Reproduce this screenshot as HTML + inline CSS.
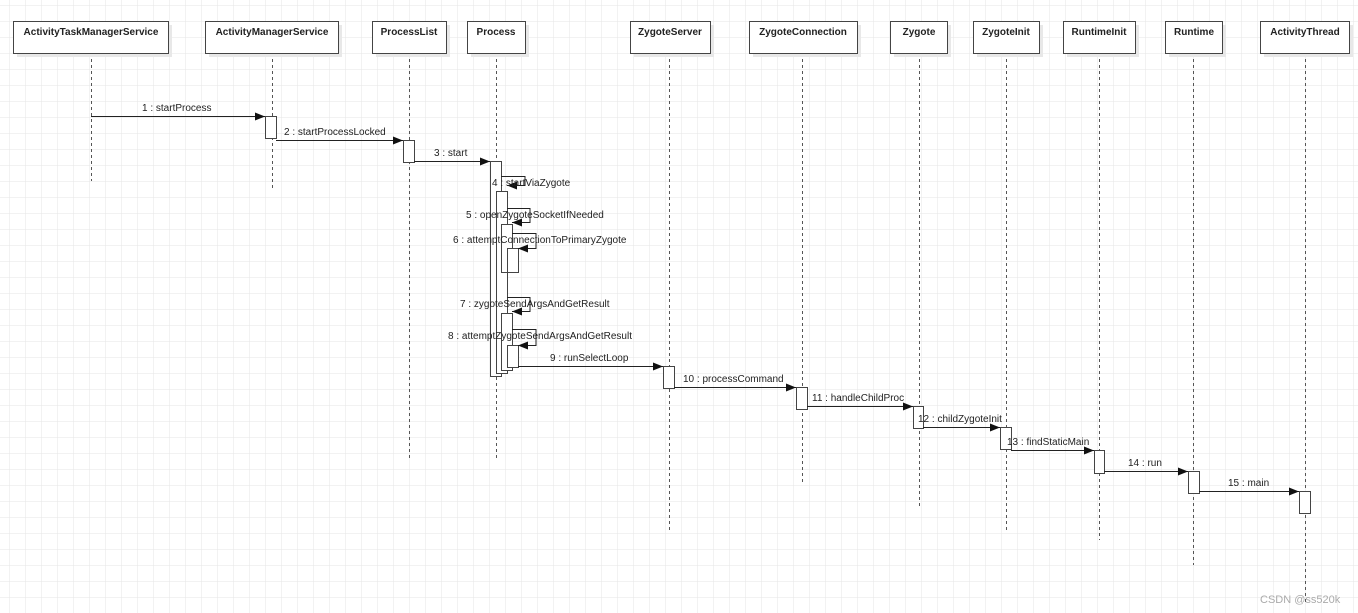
<!DOCTYPE html>
<html><head><meta charset="utf-8"><style>
body{margin:0;background:#fff}
svg{display:block}
text{font-family:"Liberation Sans",sans-serif;font-size:10px;fill:#222}
.h{font-weight:bold;font-size:10px}
</style></head><body>
<svg width="1358" height="613" xmlns="http://www.w3.org/2000/svg">
<defs>
<pattern id="g" x="10" y="6" width="16" height="16" patternUnits="userSpaceOnUse">
<path d="M16 0V16M0 16H16" fill="none" stroke="#e6e6e6" stroke-width="1"/>
</pattern>
<marker id="a" markerWidth="10" markerHeight="8" refX="10" refY="4" orient="auto" markerUnits="userSpaceOnUse"><path d="M0 0L10 4L0 8z" fill="#111"/></marker>
</defs>
<rect width="1358" height="613" fill="url(#g)"/>
<g stroke="#555" stroke-dasharray="3,3" stroke-width="1">
<line x1="91.5" y1="53" x2="91.5" y2="181"/>
<line x1="272.5" y1="53" x2="272.5" y2="190"/>
<line x1="409.5" y1="53" x2="409.5" y2="460"/>
<line x1="496.5" y1="53" x2="496.5" y2="460"/>
<line x1="669.5" y1="53" x2="669.5" y2="532"/>
<line x1="802.5" y1="53" x2="802.5" y2="483"/>
<line x1="919.5" y1="53" x2="919.5" y2="508"/>
<line x1="1006.5" y1="53" x2="1006.5" y2="531"/>
<line x1="1099.5" y1="53" x2="1099.5" y2="540"/>
<line x1="1193.5" y1="53" x2="1193.5" y2="565"/>
<line x1="1305.5" y1="53" x2="1305.5" y2="605"/>
</g>
<g fill="#e8e8e8">
<rect x="17" y="25" width="155" height="32"/><rect x="209" y="25" width="133" height="32"/><rect x="376" y="25" width="74" height="32"/><rect x="471" y="25" width="58" height="32"/><rect x="634" y="25" width="80" height="32"/><rect x="753" y="25" width="108" height="32"/><rect x="894" y="25" width="57" height="32"/><rect x="977" y="25" width="66" height="32"/><rect x="1067" y="25" width="72" height="32"/><rect x="1169" y="25" width="57" height="32"/><rect x="1264" y="25" width="89" height="32"/>
</g>
<g fill="#fff" stroke="#444" stroke-width="1">
<rect x="13.5" y="21.5" width="155" height="32"/><rect x="205.5" y="21.5" width="133" height="32"/><rect x="372.5" y="21.5" width="74" height="32"/><rect x="467.5" y="21.5" width="58" height="32"/><rect x="630.5" y="21.5" width="80" height="32"/><rect x="749.5" y="21.5" width="108" height="32"/><rect x="890.5" y="21.5" width="57" height="32"/><rect x="973.5" y="21.5" width="66" height="32"/><rect x="1063.5" y="21.5" width="72" height="32"/><rect x="1165.5" y="21.5" width="57" height="32"/><rect x="1260.5" y="21.5" width="89" height="32"/>
</g>
<g class="h" text-anchor="middle">
<text class="h" x="91" y="35">ActivityTaskManagerService</text>
<text class="h" x="272" y="35">ActivityManagerService</text>
<text class="h" x="409" y="35">ProcessList</text>
<text class="h" x="496" y="35">Process</text>
<text class="h" x="670" y="35">ZygoteServer</text>
<text class="h" x="803" y="35">ZygoteConnection</text>
<text class="h" x="919" y="35">Zygote</text>
<text class="h" x="1006" y="35">ZygoteInit</text>
<text class="h" x="1099" y="35">RuntimeInit</text>
<text class="h" x="1194" y="35">Runtime</text>
<text class="h" x="1305" y="35">ActivityThread</text>
</g>
<g fill="#fff" stroke="#444" stroke-width="1">
<rect x="265.5" y="116.5" width="11" height="22"/>
<rect x="403.5" y="140.5" width="11" height="22"/>
<rect x="490.5" y="161.5" width="11" height="215"/>
<rect x="496.5" y="191.5" width="11" height="182"/>
<rect x="501.5" y="224.5" width="11" height="48"/>
<rect x="507.5" y="248.5" width="11" height="24"/>
<rect x="501.5" y="313.5" width="11" height="57"/>
<rect x="507.5" y="345.5" width="11" height="22"/>
<rect x="663.5" y="366.5" width="11" height="22"/>
<rect x="796.5" y="387.5" width="11" height="22"/>
<rect x="913.5" y="406.5" width="10" height="22"/>
<rect x="1000.5" y="427.5" width="11" height="22"/>
<rect x="1094.5" y="450.5" width="10" height="23"/>
<rect x="1188.5" y="471.5" width="11" height="22"/>
<rect x="1299.5" y="491.5" width="11" height="22"/>
</g>
<g stroke="#222" stroke-width="1" fill="none" marker-end="url(#a)">
<line x1="91" y1="116.5" x2="265" y2="116.5"/>
<line x1="276" y1="140.5" x2="403" y2="140.5"/>
<line x1="414" y1="161.5" x2="490" y2="161.5"/>
<path d="M501 176.5H525V185.5H507"/>
<path d="M507 208.5H530V222.5H512"/>
<path d="M512 233.5H536V248.5H518"/>
<path d="M507 297.5H530V311.5H512"/>
<path d="M512 329.5H536V345.5H518"/>
<line x1="518" y1="366.5" x2="663" y2="366.5"/>
<line x1="674" y1="387.5" x2="796" y2="387.5"/>
<line x1="807" y1="406.5" x2="913" y2="406.5"/>
<line x1="923" y1="427.5" x2="1000" y2="427.5"/>
<line x1="1011" y1="450.5" x2="1094" y2="450.5"/>
<line x1="1104" y1="471.5" x2="1188" y2="471.5"/>
<line x1="1199" y1="491.5" x2="1299" y2="491.5"/>
</g>
<text x="142" y="111">1 : startProcess</text>
<text x="284" y="135">2 : startProcessLocked</text>
<text x="434" y="156">3 : start</text>
<text x="492" y="186">4 : startViaZygote</text>
<text x="466" y="218">5 : openZygoteSocketIfNeeded</text>
<text x="453" y="243">6 : attemptConnectionToPrimaryZygote</text>
<text x="460" y="307">7 : zygoteSendArgsAndGetResult</text>
<text x="448" y="339">8 : attemptZygoteSendArgsAndGetResult</text>
<text x="550" y="361">9 : runSelectLoop</text>
<text x="683" y="382">10 : processCommand</text>
<text x="812" y="401">11 : handleChildProc</text>
<text x="918" y="422">12 : childZygoteInit</text>
<text x="1007" y="445">13 : findStaticMain</text>
<text x="1128" y="466">14 : run</text>
<text x="1228" y="486">15 : main</text>
<text x="1260" y="603" style="font-size:11px;fill:#aaa">CSDN @ss520k</text>
</svg>
</body></html>
